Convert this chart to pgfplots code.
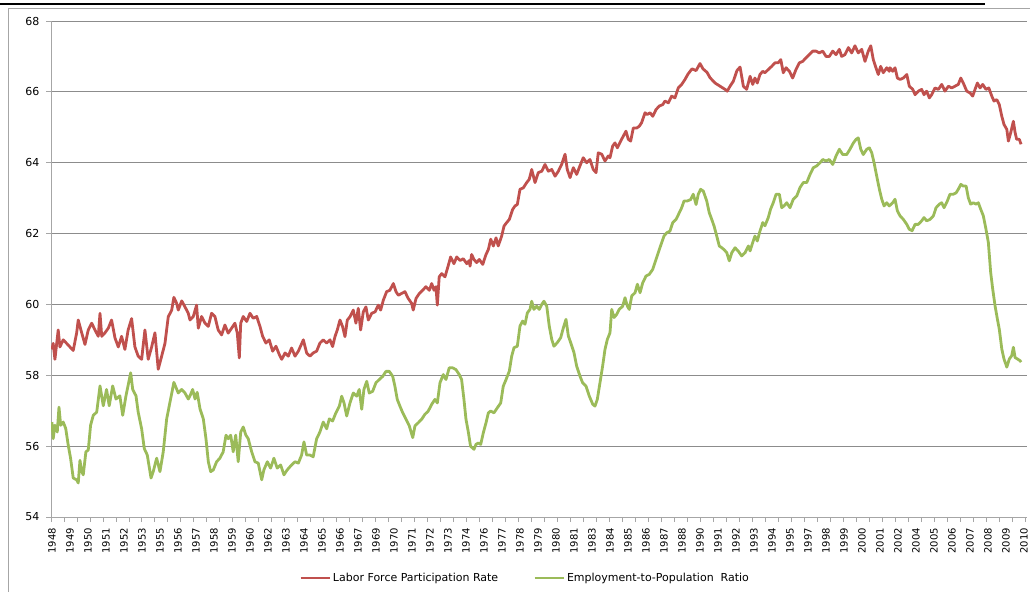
\documentclass[border=0pt]{standalone}
\usepackage{fontspec}
\setmainfont{DejaVu Sans}
\usepackage{pgfplots}
\pgfplotsset{compat=1.18}
\definecolor{lfpr}{HTML}{C0504D}
\definecolor{epop}{HTML}{9BBB59}
\definecolor{gridc}{HTML}{8C8C8C}
\definecolor{axc}{HTML}{A6A6A6}
\begin{document}
\begin{tikzpicture}[x=1pt,y=1pt]
\useasboundingbox (0,0) rectangle (1030,592);
\draw[axc, line width=1pt] (8.3,0) -- (8.3,583.7) -- (1030,583.7);
\draw[black, line width=1.6pt] (0,588) -- (985,588);
\begin{axis}[
  at={(51pt,75pt)}, anchor=south west,
  width=976pt, height=496pt, scale only axis,
  xmin=1947.94, xmax=2010.29, ymin=54, ymax=68,
  axis x line*=bottom, axis y line*=left,
  axis line style={axc, line width=0.9pt},
  ytick={54,56,...,68},
  ymajorgrids, major grid style={gridc, line width=0.9pt},
  xtick={1947.94,1948.77,...,2010.3},
  xticklabels={},
  extra x ticks={1948,1949.15,...,2010.12},
  extra x tick labels={1948,1949,1950,1951,1952,1953,1955,1956,1957,1958,1959,1960,1962,1963,1964,1965,1966,1967,1969,1970,1971,1972,1973,1974,1976,1977,1978,1979,1980,1981,1983,1984,1985,1986,1987,1988,1990,1991,1992,1993,1994,1995,1997,1998,1999,2000,2001,2002,2004,2005,2006,2007,2008,2009,2010},
  extra x tick style={major tick length=0pt, xticklabel style={rotate=90, anchor=east, font=\fontsize{10}{10}\selectfont, inner sep=0pt, xshift=-11pt}},
  tick align=outside,
  major tick length=5pt,
  every tick/.style={axc, line width=0.9pt},
  yticklabel style={font=\fontsize{11}{11}\selectfont, xshift=-3pt},
  /pgf/number format/assume math mode=true,
  legend columns=2,
  legend style={at={(0.4857,-0.123)}, anchor=center, draw=none, fill=none,
    font=\fontsize{11}{12}\selectfont,
    /tikz/every even column/.append style={column sep=33pt}},
  legend image code/.code={\draw[#1] (0pt,0pt) -- (29pt,0pt);},
]
\addplot[lfpr, line width=2.8pt, line join=round] coordinates {
(1948.00,58.73) (1948.08,58.90) (1948.19,58.45) (1948.40,59.28) (1948.51,58.80) (1948.72,59.00) (1948.94,58.90) (1949.15,58.80) (1949.36,58.70) (1949.58,59.20) (1949.68,59.56) (1949.90,59.20) (1950.11,58.87) (1950.32,59.28) (1950.54,59.47) (1950.75,59.28) (1950.96,59.10) (1951.07,59.75) (1951.18,59.10) (1951.39,59.20) (1951.60,59.33) (1951.81,59.56) (1952.03,59.05) (1952.24,58.80) (1952.45,59.10) (1952.66,58.73) (1952.87,59.28) (1953.09,59.60) (1953.30,58.80) (1953.51,58.54) (1953.73,58.45) (1953.94,59.28) (1954.15,58.45) (1954.37,58.80) (1954.58,59.20) (1954.79,58.17) (1955.01,58.54) (1955.22,58.90) (1955.43,59.65) (1955.65,59.84) (1955.79,60.20) (1955.97,60.03) (1956.07,59.84) (1956.29,60.10) (1956.50,59.93) (1956.71,59.75) (1956.82,59.56) (1957.03,59.66) (1957.24,59.98) (1957.35,59.33) (1957.56,59.66) (1957.78,59.47) (1957.99,59.38) (1958.20,59.75) (1958.41,59.66) (1958.62,59.28) (1958.84,59.14) (1959.05,59.42) (1959.26,59.19) (1959.48,59.33) (1959.69,59.47) (1959.84,59.19) (1959.97,58.49) (1960.06,59.47) (1960.22,59.66) (1960.44,59.52) (1960.65,59.75) (1960.86,59.61) (1961.08,59.66) (1961.29,59.38) (1961.46,59.10) (1961.67,58.91) (1961.88,59.00) (1962.10,58.68) (1962.31,58.82) (1962.52,58.59) (1962.68,58.45) (1962.89,58.63) (1963.10,58.54) (1963.31,58.77) (1963.53,58.54) (1963.74,58.68) (1964.06,59.00) (1964.27,58.63) (1964.48,58.54) (1964.69,58.63) (1964.91,58.68) (1965.12,58.91) (1965.33,59.00) (1965.55,58.91) (1965.76,59.00) (1965.93,58.81) (1966.08,59.09) (1966.23,59.28) (1966.40,59.56) (1966.57,59.37) (1966.72,59.09) (1966.87,59.56) (1967.04,59.65) (1967.25,59.84) (1967.42,59.47) (1967.57,59.89) (1967.72,59.28) (1967.89,59.79) (1968.06,59.93) (1968.21,59.56) (1968.43,59.75) (1968.64,59.79) (1968.85,59.98) (1969.00,59.84) (1969.17,60.12) (1969.38,60.36) (1969.59,60.40) (1969.81,60.59) (1969.98,60.36) (1970.13,60.26) (1970.34,60.31) (1970.55,60.36) (1970.76,60.17) (1970.98,60.03) (1971.08,59.84) (1971.26,60.17) (1971.47,60.31) (1971.68,60.40) (1971.89,60.50) (1972.11,60.40) (1972.26,60.59) (1972.41,60.40) (1972.53,60.50) (1972.62,59.98) (1972.74,60.78) (1972.90,60.87) (1973.11,60.78) (1973.32,61.10) (1973.47,61.34) (1973.68,61.15) (1973.86,61.34) (1974.07,61.24) (1974.28,61.29) (1974.50,61.15) (1974.66,61.24) (1974.71,61.08) (1974.81,61.41) (1974.96,61.27) (1975.13,61.18) (1975.30,61.27) (1975.52,61.13) (1975.73,61.41) (1975.88,61.55) (1976.03,61.84) (1976.20,61.65) (1976.37,61.88) (1976.51,61.65) (1976.73,61.93) (1976.88,62.21) (1977.05,62.31) (1977.22,62.40) (1977.43,62.68) (1977.58,62.78) (1977.73,62.82) (1977.90,63.25) (1978.11,63.29) (1978.33,63.44) (1978.49,63.53) (1978.65,63.81) (1978.86,63.44) (1979.07,63.72) (1979.29,63.76) (1979.50,63.95) (1979.71,63.76) (1979.93,63.81) (1980.14,63.62) (1980.35,63.76) (1980.56,63.95) (1980.78,64.24) (1980.92,63.81) (1981.10,63.58) (1981.31,63.86) (1981.52,63.67) (1981.73,63.91) (1981.94,64.14) (1982.16,64.00) (1982.37,64.09) (1982.58,63.81) (1982.76,63.72) (1982.90,64.28) (1983.12,64.24) (1983.33,64.05) (1983.54,64.19) (1983.65,64.14) (1983.82,64.47) (1983.97,64.56) (1984.12,64.42) (1984.33,64.61) (1984.50,64.75) (1984.67,64.89) (1984.82,64.66) (1984.97,64.61) (1985.14,64.98) (1985.36,64.98) (1985.52,65.03) (1985.67,65.13) (1985.89,65.41) (1986.03,65.36) (1986.21,65.41) (1986.38,65.31) (1986.59,65.50) (1986.80,65.60) (1987.02,65.64) (1987.16,65.74) (1987.38,65.69) (1987.59,65.88) (1987.80,65.83) (1988.01,66.11) (1988.23,66.21) (1988.44,66.35) (1988.63,66.50) (1988.89,66.65) (1989.15,66.60) (1989.40,66.80) (1989.59,66.65) (1989.85,66.55) (1990.04,66.40) (1990.36,66.25) (1990.68,66.16) (1991.00,66.07) (1991.14,66.02) (1991.32,66.16) (1991.53,66.30) (1991.76,66.60) (1991.96,66.70) (1992.17,66.16) (1992.38,66.07) (1992.60,66.44) (1992.77,66.21) (1992.91,66.39) (1993.06,66.25) (1993.23,66.49) (1993.41,66.58) (1993.55,66.54) (1993.76,66.63) (1993.98,66.72) (1994.19,66.82) (1994.40,66.82) (1994.56,66.91) (1994.72,66.54) (1994.90,66.68) (1995.11,66.58) (1995.32,66.39) (1995.53,66.63) (1995.75,66.82) (1995.96,66.86) (1996.17,66.96) (1996.38,67.05) (1996.60,67.15) (1996.81,67.15) (1997.02,67.10) (1997.24,67.15) (1997.45,67.00) (1997.66,67.00) (1997.88,67.15) (1998.09,67.05) (1998.30,67.20) (1998.45,67.00) (1998.66,67.05) (1998.88,67.25) (1999.09,67.10) (1999.30,67.30) (1999.51,67.10) (1999.73,67.20) (1999.94,66.86) (2000.15,67.15) (2000.31,67.30) (2000.47,66.91) (2000.64,66.68) (2000.79,66.49) (2000.94,66.72) (2001.11,66.54) (2001.33,66.68) (2001.49,66.58) (2001.54,66.68) (2001.71,66.58) (2001.86,66.68) (2002.01,66.39) (2002.18,66.35) (2002.39,66.39) (2002.61,66.49) (2002.77,66.16) (2002.99,66.07) (2003.14,65.92) (2003.35,66.02) (2003.56,66.07) (2003.71,65.92) (2003.88,66.02) (2004.05,65.83) (2004.20,65.92) (2004.41,66.11) (2004.63,66.07) (2004.84,66.21) (2005.05,66.02) (2005.27,66.16) (2005.48,66.11) (2005.69,66.16) (2005.90,66.21) (2006.06,66.39) (2006.22,66.25) (2006.44,66.02) (2006.65,65.97) (2006.82,65.88) (2006.97,66.07) (2007.12,66.25) (2007.29,66.11) (2007.46,66.21) (2007.67,66.07) (2007.85,66.11) (2008.04,65.88) (2008.18,65.74) (2008.36,65.78) (2008.52,65.64) (2008.68,65.31) (2008.82,65.08) (2009.00,64.94) (2009.10,64.61) (2009.25,64.85) (2009.42,65.17) (2009.53,64.85) (2009.63,64.66) (2009.80,64.66) (2009.91,64.52)
};
\addlegendentry{Labor Force Participation Rate}
\addplot[epop, line width=2.8pt, line join=round] coordinates {
(1948.00,56.68) (1948.08,56.21) (1948.19,56.59) (1948.34,56.40) (1948.45,57.10) (1948.56,56.59) (1948.72,56.68) (1948.88,56.50) (1949.04,56.03) (1949.19,55.66) (1949.36,55.10) (1949.58,55.05) (1949.68,54.96) (1949.79,55.60) (1949.90,55.28) (1950.00,55.19) (1950.17,55.84) (1950.32,55.89) (1950.47,56.59) (1950.64,56.87) (1950.86,56.96) (1951.07,57.70) (1951.28,57.14) (1951.49,57.60) (1951.66,57.14) (1951.88,57.70) (1952.09,57.33) (1952.34,57.42) (1952.52,56.87) (1952.73,57.42) (1953.03,58.07) (1953.16,57.60) (1953.37,57.42) (1953.51,56.96) (1953.73,56.49) (1953.90,55.93) (1954.09,55.75) (1954.33,55.10) (1954.47,55.28) (1954.69,55.66) (1954.90,55.28) (1955.11,55.84) (1955.33,56.77) (1955.54,57.24) (1955.79,57.80) (1956.07,57.50) (1956.29,57.60) (1956.50,57.50) (1956.71,57.33) (1956.82,57.42) (1956.99,57.60) (1957.14,57.33) (1957.28,57.52) (1957.46,57.05) (1957.67,56.77) (1957.84,56.21) (1957.99,55.56) (1958.14,55.28) (1958.31,55.33) (1958.52,55.56) (1958.73,55.66) (1958.94,55.84) (1959.12,56.31) (1959.26,56.21) (1959.42,56.31) (1959.58,55.84) (1959.74,56.31) (1959.90,55.56) (1960.06,56.40) (1960.22,56.54) (1960.39,56.31) (1960.54,56.21) (1960.76,55.84) (1960.97,55.56) (1961.18,55.52) (1961.40,55.05) (1961.54,55.33) (1961.76,55.56) (1961.97,55.38) (1962.18,55.66) (1962.39,55.38) (1962.61,55.47) (1962.82,55.19) (1963.03,55.33) (1963.31,55.47) (1963.53,55.56) (1963.74,55.52) (1963.95,55.75) (1964.10,56.12) (1964.27,55.75) (1964.48,55.75) (1964.69,55.70) (1964.91,56.21) (1965.12,56.40) (1965.33,56.68) (1965.55,56.49) (1965.72,56.77) (1965.93,56.71) (1966.14,56.94) (1966.36,57.13) (1966.51,57.41) (1966.66,57.22) (1966.83,56.85) (1967.04,57.22) (1967.25,57.50) (1967.47,57.41) (1967.63,57.60) (1967.79,57.04) (1967.93,57.60) (1968.11,57.83) (1968.27,57.50) (1968.49,57.55) (1968.70,57.79) (1968.91,57.88) (1969.13,57.97) (1969.34,58.11) (1969.55,58.11) (1969.77,57.97) (1969.91,57.69) (1970.06,57.32) (1970.23,57.13) (1970.41,56.94) (1970.62,56.76) (1970.83,56.57) (1971.05,56.24) (1971.19,56.57) (1971.40,56.66) (1971.62,56.76) (1971.83,56.90) (1972.04,56.99) (1972.26,57.18) (1972.47,57.32) (1972.62,57.22) (1972.79,57.79) (1973.00,58.02) (1973.17,57.88) (1973.38,58.21) (1973.60,58.21) (1973.81,58.16) (1974.02,58.02) (1974.17,57.88) (1974.32,57.32) (1974.45,56.76) (1974.60,56.40) (1974.74,56.00) (1974.96,55.91) (1975.09,56.05) (1975.24,56.09) (1975.39,56.05) (1975.56,56.38) (1975.73,56.66) (1975.88,56.94) (1976.03,56.99) (1976.24,56.94) (1976.45,57.08) (1976.67,57.22) (1976.83,57.69) (1977.01,57.88) (1977.22,58.12) (1977.37,58.54) (1977.52,58.78) (1977.73,58.82) (1977.90,59.39) (1978.07,59.53) (1978.22,59.44) (1978.37,59.76) (1978.54,59.86) (1978.65,60.09) (1978.79,59.86) (1978.97,59.95) (1979.13,59.86) (1979.29,60.00) (1979.43,60.09) (1979.61,59.95) (1979.77,59.39) (1979.93,59.01) (1980.07,58.82) (1980.28,58.92) (1980.50,59.06) (1980.67,59.34) (1980.84,59.58) (1980.99,59.11) (1981.14,58.92) (1981.35,58.64) (1981.52,58.26) (1981.73,57.98) (1981.90,57.79) (1982.12,57.69) (1982.33,57.41) (1982.55,57.18) (1982.69,57.13) (1982.84,57.32) (1983.01,57.79) (1983.18,58.26) (1983.33,58.73) (1983.48,59.01) (1983.65,59.20) (1983.76,59.86) (1983.91,59.63) (1984.08,59.72) (1984.24,59.86) (1984.46,59.95) (1984.61,60.19) (1984.76,59.95) (1984.88,59.86) (1985.04,60.24) (1985.25,60.33) (1985.40,60.57) (1985.57,60.33) (1985.74,60.61) (1985.95,60.80) (1986.16,60.85) (1986.38,60.99) (1986.59,61.27) (1986.80,61.55) (1986.95,61.74) (1987.10,61.93) (1987.27,62.02) (1987.48,62.07) (1987.66,62.31) (1987.87,62.40) (1988.08,62.59) (1988.23,62.73) (1988.38,62.92) (1988.59,62.92) (1988.80,62.96) (1988.97,63.11) (1989.15,62.82) (1989.29,63.11) (1989.44,63.25) (1989.61,63.20) (1989.83,62.92) (1989.99,62.59) (1990.15,62.40) (1990.30,62.21) (1990.47,61.93) (1990.63,61.65) (1990.79,61.60) (1990.93,61.55) (1991.11,61.46) (1991.27,61.23) (1991.43,61.46) (1991.64,61.60) (1991.85,61.50) (1992.06,61.37) (1992.28,61.46) (1992.49,61.65) (1992.60,61.51) (1992.77,61.75) (1992.91,61.93) (1993.06,61.79) (1993.23,62.07) (1993.41,62.31) (1993.55,62.22) (1993.76,62.45) (1993.91,62.69) (1994.08,62.87) (1994.26,63.11) (1994.47,63.11) (1994.62,62.73) (1994.77,62.78) (1994.94,62.87) (1995.15,62.73) (1995.36,62.97) (1995.58,63.06) (1995.79,63.30) (1996.00,63.44) (1996.22,63.44) (1996.43,63.67) (1996.64,63.86) (1996.86,63.91) (1997.07,64.00) (1997.24,64.09) (1997.45,64.05) (1997.66,64.09) (1997.88,63.95) (1998.09,64.19) (1998.30,64.38) (1998.52,64.23) (1998.77,64.23) (1998.98,64.38) (1999.20,64.56) (1999.37,64.66) (1999.51,64.70) (1999.67,64.38) (1999.83,64.23) (2000.05,64.38) (2000.22,64.42) (2000.37,64.28) (2000.52,64.00) (2000.69,63.62) (2000.86,63.25) (2001.01,62.97) (2001.16,62.78) (2001.33,62.87) (2001.49,62.78) (2001.71,62.87) (2001.86,62.97) (2002.01,62.64) (2002.18,62.50) (2002.39,62.40) (2002.61,62.26) (2002.77,62.12) (2002.95,62.08) (2003.14,62.26) (2003.35,62.26) (2003.56,62.36) (2003.71,62.45) (2003.88,62.36) (2004.09,62.40) (2004.31,62.50) (2004.48,62.73) (2004.69,62.83) (2004.84,62.87) (2004.99,62.73) (2005.20,62.92) (2005.37,63.11) (2005.58,63.11) (2005.76,63.15) (2005.90,63.25) (2006.06,63.39) (2006.22,63.34) (2006.40,63.34) (2006.54,63.01) (2006.69,62.83) (2006.86,62.87) (2007.03,62.83) (2007.18,62.87) (2007.33,62.69) (2007.50,62.50) (2007.67,62.12) (2007.82,61.75) (2007.97,60.90) (2008.10,60.43) (2008.25,59.96) (2008.40,59.58) (2008.52,59.30) (2008.68,58.74) (2008.82,58.46) (2009.00,58.23) (2009.16,58.46) (2009.31,58.55) (2009.42,58.79) (2009.53,58.50) (2009.68,58.46) (2009.85,58.41) (2009.91,58.37)
};
\addlegendentry{Employment-to-Population~~Ratio}
\end{axis}
\end{tikzpicture}
\end{document}
